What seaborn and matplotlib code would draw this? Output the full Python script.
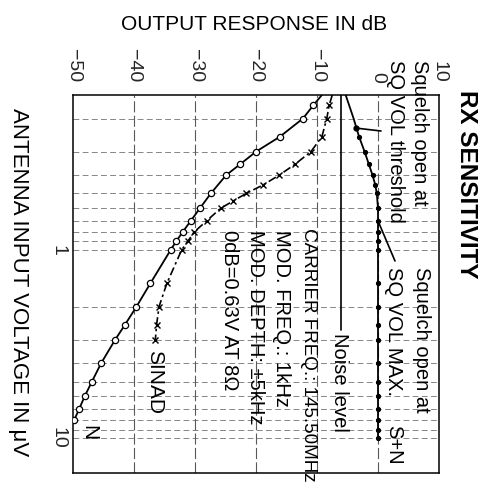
import numpy as np
import matplotlib
matplotlib.use("Agg")
import matplotlib.pyplot as plt
from matplotlib.ticker import NullFormatter, NullLocator, FixedLocator
import seaborn as sns

# ---- data -------------------------------------------------------------
# Noise output (N) versus antenna input voltage
noise_uv = [0.15, 0.17, 0.2, 0.25, 0.3, 0.35, 0.4, 0.5, 0.6, 0.7, 0.8, 0.9,
            1.0, 1.5, 2.0, 2.5, 3.0, 4.0, 5.0, 6.0, 7.0, 8.0]
noise_db = [-9.2, -10.6, -12.3, -16.1, -20.0, -22.6, -24.9, -27.4, -29.2,
            -30.7, -32.0, -33.1, -34.0, -37.3, -39.6, -41.5, -43.1, -45.4,
            -46.9, -48.1, -49.0, -49.8]

# SINAD
sinad_uv = [0.15, 0.17, 0.2, 0.25, 0.3, 0.35, 0.4, 0.45, 0.5, 0.55, 0.6,
            0.7, 0.8, 0.9, 1.0, 1.5, 2.0, 2.5, 3.0]
sinad_db = [-7.5, -8.0, -8.4, -9.2, -11.0, -13.6, -16.2, -18.8, -21.6,
            -23.8, -25.8, -28.1, -30.1, -31.2, -32.2, -34.6, -35.9, -36.3,
            -36.5]

# Signal + noise (S+N)
sn_uv = [0.15, 0.2, 0.25, 0.3, 0.35, 0.4, 0.45, 0.5, 0.6, 0.7, 0.8, 0.9,
         1.0, 1.5, 2.0, 2.5, 3.0, 4.0, 5.0, 6.0, 7.0, 8.0, 9.0, 10.0]
sn_db = [-5.3, -4.0, -3.1, -2.2, -1.5, -0.9, -0.45, -0.2, 0.0, 0.0, 0.0,
         0.0, 0.0, 0.0, 0.0, 0.0, 0.0, 0.0, 0.0, 0.0, 0.0, 0.0, 0.0, 0.0]

# Noise level reference
noise_level_db = -6.1
noise_level_uv = [0.15, 2.66]

# Squelch points on the S+N curve
sq_threshold_uv = 0.225
sq_max_uv = 0.7

# Axes ticks
db_ticks = [-50, -40, -30, -20, -10, 0, 10]
db_labels = ["\u221250", "\u221240", "\u221230", "\u221220", "\u221210", "0", "10"]
uv_ticks = [1, 10]
uv_labels = ["1", "10"]
db_grid = [-40, -30, -20, -10, 0]
uv_grid = [0.2, 0.3, 0.4, 0.5, 0.6, 0.7, 0.8, 0.9, 1, 2, 3, 4, 5, 6, 7, 8, 9, 10]

# ---- style ------------------------------------------------------------
sns.set_style("white")
plt.rcParams["font.family"] = ["Liberation Sans", "DejaVu Sans"]

W, H = 480, 490
fig = plt.figure(figsize=(W / 100, H / 100), dpi=100)
ax = fig.add_axes([73 / W, 1 - 473 / H, (439 - 73) / W, (473 - 95) / H])


def fp(x, y):
    """figure fraction from pixel position (origin top-left)"""
    return x / W, 1 - y / H


ax.set_yscale("log")
ax.set_xlim(-50, 10)
ax.set_ylim(15.3, 0.15)

# grid
for g in uv_grid:
    ax.axhline(g, color="0.45", lw=0.6, ls=(0, (7, 4)), zorder=1)
for g in db_grid:
    ax.axvline(g, color="0.35", lw=0.8, ls=(0, (10, 3)), zorder=1)

# curves
sns.lineplot(x=noise_db, y=noise_uv, sort=False, estimator=None, ax=ax,
             color="black", lw=1.3, marker="o", markersize=4.5,
             markerfacecolor="white", markeredgecolor="black",
             markeredgewidth=0.9, markevery=list(range(1, len(noise_uv))),
             zorder=4)
sns.lineplot(x=sinad_db, y=sinad_uv, sort=False, estimator=None, ax=ax,
             color="black", lw=1.2, linestyle=(0, (5, 2, 1.5, 2)),
             marker="x", markersize=5, markeredgewidth=1.0,
             markeredgecolor="black",
             markevery=list(range(1, len(sinad_uv))), zorder=4)
sns.lineplot(x=sn_db, y=sn_uv, sort=False, estimator=None, ax=ax,
             color="black", lw=1.3, marker="o", markersize=3,
             markerfacecolor="black", markeredgecolor="black",
             markevery=list(range(2, len(sn_uv))), zorder=4)

# noise level line
ax.plot([noise_level_db, noise_level_db], noise_level_uv, color="black",
        lw=1.2, zorder=3)

# squelch leaders to the S+N curve
lg = np.log10(sn_uv)
thr_db = float(np.interp(np.log10(sq_threshold_uv), lg, sn_db))
max_db = float(np.interp(np.log10(sq_max_uv), lg, sn_db))
ax.annotate("", xy=(thr_db, sq_threshold_uv), xytext=fp(381, 131),
            textcoords="figure fraction",
            arrowprops=dict(arrowstyle="-", lw=1.2, color="black",
                            shrinkA=0, shrinkB=0))
ax.plot([thr_db], [sq_threshold_uv], "o", color="black", ms=3.5, zorder=5)
ax.annotate("", xy=(max_db, sq_max_uv), xytext=fp(395, 261),
            textcoords="figure fraction",
            arrowprops=dict(arrowstyle="-", lw=1.2, color="black",
                            shrinkA=0, shrinkB=0))

# ticks
ax.xaxis.tick_top()
ax.set_xticks(db_ticks)
ax.set_xticklabels(db_labels)
ax.yaxis.set_major_locator(FixedLocator(uv_ticks))
ax.set_yticklabels(uv_labels)
ax.yaxis.set_minor_locator(NullLocator())
ax.yaxis.set_minor_formatter(NullFormatter())
ax.tick_params(axis="x", length=0, pad=9, labelsize=14, rotation=-90)
ax.tick_params(axis="y", length=0, pad=5, labelsize=14, rotation=-90)
for lab in ax.get_yticklabels():
    lab.set_verticalalignment("center")

for s in ax.spines.values():
    s.set_color("black")
    s.set_linewidth(1.1)


def vtext(x, y, s, size=15, weight="normal"):
    fig.text(*fp(x, y), s, rotation=-90, rotation_mode="anchor",
             ha="left", va="center", fontsize=size, fontweight=weight,
             color="black")


# titles and labels
fig.text(*fp(254, 25), "OUTPUT RESPONSE IN dB", ha="center", va="center",
         fontsize=15, color="black")
vtext(19, 108, "ANTENNA INPUT VOLTAGE IN \u03bcV", size=16)
vtext(467, 90, "RX SENSITIVITY", size=17.5, weight="bold")

# annotations
vtext(419, 60, "Squelch open at", size=14.5)
vtext(395, 60, "SQ VOL threshold", size=14.5)
vtext(422, 267, "Squelch open at", size=14.5)
vtext(394, 267, "SQ VOL MAX.", size=14.5)
vtext(394, 425, "S+N", size=14.5)
vtext(308, 228, "CARRIER FREQ.: 145.50MHz", size=13.6)
vtext(281, 230, "MOD. FREQ.: 1kHz", size=14.5)
vtext(255, 230, "MOD. DEPTH: \u00b15kHz", size=14.5)
vtext(230, 230, "0dB=0.63V AT 8\u03a9", size=14.5)
vtext(340, 333, "Noise level", size=14.5)
vtext(155, 350, "SINAD", size=15)
vtext(89, 425, "N", size=15)

fig.savefig("out.png", dpi=100, facecolor="white")
